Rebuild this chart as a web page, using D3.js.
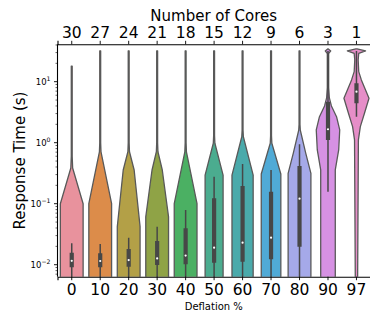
<!DOCTYPE html>
<html lang="en">
<head>
<meta charset="UTF-8">
<title>Response time violins</title>
<script src="https://d3js.org/d3.v7.min.js"></script>
<style>
    body { margin: 0; background: #fff; }
    svg { display: block; font-family: "DejaVu Sans", sans-serif; }
</style>
</head>
<body>
<svg id="chart" width="370" height="313"></svg>
<script>
// categories
const deflation = ["0", "10", "20", "30", "40", "50", "60", "70", "80", "90", "97"];
const cores = ["30", "27", "24", "21", "18", "15", "12", "9", "6", "3", "1"];

// violin outlines: [seconds, relative half width]
const profiles = [
    [[0.001, 1], [0.1, 1], [0.385, 0.08], [0.6, 0.04], [18, 0.04]],
    [[0.001, 1], [0.1, 1], [0.71, 0.07], [1, 0.04], [32, 0.04]],
    [[0.001, 1], [0.042, 1], [0.357, 0.48], [0.71, 0.07], [1, 0.04], [32, 0.04]],
    [[0.001, 1], [0.061, 1], [0.357, 0.45], [0.71, 0.07], [1, 0.04], [32, 0.04]],
    [[0.001, 1], [0.1, 1], [0.71, 0.07], [1, 0.04], [32, 0.04]],
    [[0.001, 0.79], [0.295, 0.79], [0.98, 0.07], [1.3, 0.04], [32, 0.04]],
    [[0.001, 0.93], [0.295, 0.93], [1.25, 0.07], [1.6, 0.04], [32, 0.04]],
    [[0.001, 0.86], [0.307, 0.86], [0.98, 0.07], [1.3, 0.04], [32, 0.04]],
    [[0.001, 1], [0.315, 1], [0.67, 0.55], [1.6, 0.07], [2, 0.04], [32, 0.04]],
    [[0.001, 0.64], [0.357, 0.64], [0.76, 0.94], [1.62, 1.03], [2.67, 0.75], [4, 0.3],
     [5.41, 0.12], [8, 0.06], [29, 0.06], [31.9, 0.24], [34.4, 0.03]],
    [[0.001, 0.08], [1.11, 0.17], [1.83, 0.34], [3.07, 0.71], [5.35, 1.1], [10.7, 0.43],
     [14.6, 0.2], [22.7, 0.15], [29, 0.2], [31.9, 0.8], [34.4, 0.05]]
];

// inner box stats (seconds)
const whiskerLow = [0.003, 0.003, 0.003, 0.003, 0.003, 0.003, 0.003, 0.003, 0.003, 0.157, 2.67];
const q1 = [0.00906, 0.00906, 0.00927, 0.00989, 0.0102, 0.0108, 0.0112, 0.0123, 0.0197, 1.11, 4.43];
const medians = [0.0116, 0.0115, 0.0119, 0.0127, 0.0141, 0.019, 0.023, 0.0277, 0.121, 1.66, 6.86];
const q3 = [0.0157, 0.0154, 0.0181, 0.0245, 0.0395, 0.1226, 0.195, 0.157, 0.415, 4.7, 9.42];
const whiskerHigh = [0.0224, 0.0218, 0.0277, 0.042, 0.0788, 0.277, 0.448, 0.357, 0.942, 31.9, 31.9];

const palette = ["#e8929d", "#dc8c4a", "#b3a047", "#8fa346", "#4bb063", "#4bac8f",
                 "#4aaaab", "#50aad6", "#a5a9e9", "#d691e3", "#e68ec8"];

const svg = d3.select("#chart");
const margin = {top: 44.3, right: 0, bottom: 36.3, left: 57.5};
const W = 370, H = 313;

const x = d3.scaleBand().domain(deflation).range([margin.left, W - margin.right + 0.7]).padding(0);
const y = d3.scaleLog().domain([0.00636, 41]).range([H - margin.bottom, margin.top]);
const xTop = d3.scaleBand().domain(cores).range(x.range()).padding(0);

svg.append("clipPath").attr("id", "plot-clip")
    .append("rect")
    .attr("x", margin.left).attr("y", margin.top)
    .attr("width", W - margin.left).attr("height", H - margin.bottom - margin.top);

const plot = svg.append("g").attr("clip-path", "url(#plot-clip)");
const halfMax = x.bandwidth() * 0.8 / 2;

deflation.forEach((cat, i) => {
    const cx = x(cat) + x.bandwidth() / 2;
    const area = d3.area()
        .y(d => y(d[0]))
        .x0(d => cx - d[1] * halfMax)
        .x1(d => cx + d[1] * halfMax)
        .curve(d3.curveLinear);

    plot.append("path")
        .attr("d", area(profiles[i]) )
        .attr("fill", palette[i])
        .attr("stroke", "#595959")
        .attr("stroke-width", 1.3)
        .attr("stroke-linejoin", "round");

    // whisker
    plot.append("line")
        .attr("x1", cx).attr("x2", cx)
        .attr("y1", y(whiskerLow[i])).attr("y2", y(whiskerHigh[i]))
        .attr("stroke", "#474747").attr("stroke-width", 1.5);
    // box
    plot.append("line")
        .attr("x1", cx).attr("x2", cx)
        .attr("y1", y(q1[i])).attr("y2", y(q3[i]))
        .attr("stroke", "#474747").attr("stroke-width", 4.2);
    // median
    plot.append("circle")
        .attr("cx", cx).attr("cy", y(medians[i]))
        .attr("r", 1.1)
        .attr("fill", "#fff");
});

// axes
const bottomAxis = d3.axisBottom(x).tickSize(3.5).tickPadding(3.5);
const gb = svg.append("g").attr("transform", `translate(0,${H - margin.bottom})`).call(bottomAxis);
gb.selectAll("text").attr("font-size", 15.5).attr("fill", "#000");

const topAxis = d3.axisTop(xTop).tickSize(3.5).tickPadding(3);
const gt = svg.append("g").attr("transform", `translate(0,${margin.top})`).call(topAxis);
gt.selectAll("text").attr("font-size", 15.5).attr("fill", "#000");

[gb, gt].forEach(g => {
    g.select(".domain").attr("stroke", "#000").attr("stroke-width", 1.1);
    g.selectAll(".tick line").attr("stroke", "#000").attr("stroke-width", 0.9);
    g.selectAll("text").attr("font-family", "DejaVu Sans");
});

// left axis (log with minor ticks)
const gl = svg.append("g").attr("transform", `translate(${margin.left},0)`);
gl.append("line")
    .attr("x1", 0).attr("x2", 0)
    .attr("y1", margin.top).attr("y2", H - margin.bottom)
    .attr("stroke", "#000").attr("stroke-width", 1.1);

const majors = [0.01, 0.1, 1, 10];
const majorExp = ["\u22122", "\u22121", "0", "1"];
const minors = [];
[0.001, 0.01, 0.1, 1, 10].forEach(d => {
    for (let k = 2; k <= 9; k++) {
        const v = d * k;
        if (v >= y.domain()[0] && v <= y.domain()[1]) minors.push(v);
    }
});
gl.selectAll(".minor").data(minors).enter().append("line")
    .attr("x1", -2).attr("x2", 0)
    .attr("y1", d => y(d)).attr("y2", d => y(d))
    .attr("stroke", "#000").attr("stroke-width", 0.6);
gl.selectAll(".major").data(majors).enter().append("line")
    .attr("x1", -3.5).attr("x2", 0)
    .attr("y1", d => y(d)).attr("y2", d => y(d))
    .attr("stroke", "#000").attr("stroke-width", 0.9);

const labels = gl.selectAll(".ylab").data(majors).enter().append("text")
    .attr("x", -7)
    .attr("y", d => y(d) + 3)
    .attr("text-anchor", "end")
    .attr("font-size", 8.5)
    .attr("fill", "#000");
labels.append("tspan").text("10");
labels.append("tspan")
    .attr("dy", -3.5)
    .attr("font-size", 6.2)
    .text((d, i) => majorExp[i]);

// titles
svg.append("text")
    .attr("x", (margin.left + W) / 2).attr("y", 20.5)
    .attr("text-anchor", "middle")
    .attr("font-size", 15)
    .text("Number of Cores");

svg.append("text")
    .attr("x", (margin.left + W) / 2).attr("y", 310)
    .attr("text-anchor", "middle")
    .attr("font-size", 10)
    .text("Deflation %");

svg.append("text")
    .attr("transform", `translate(24.5,${(margin.top + H - margin.bottom) / 2}) rotate(-90)`)
    .attr("text-anchor", "middle")
    .attr("font-size", 15)
    .text("Response Time (s)");
</script>
</body>
</html>
